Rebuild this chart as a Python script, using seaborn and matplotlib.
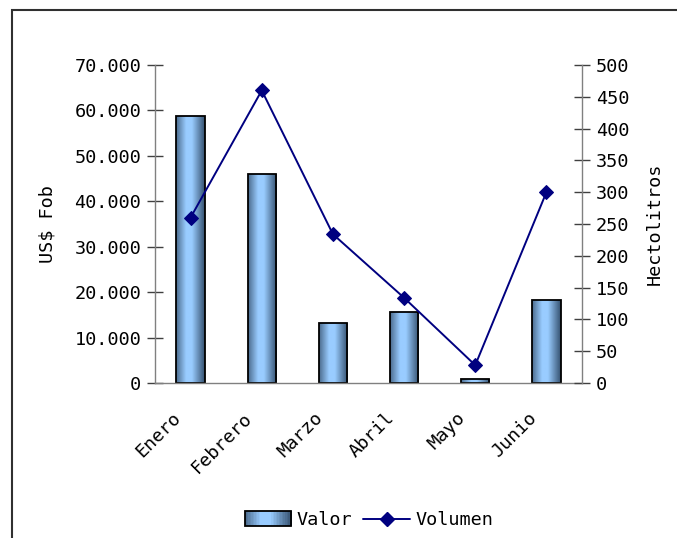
import numpy as np
import pandas as pd
import matplotlib
matplotlib.use("Agg")
import matplotlib.pyplot as plt
import matplotlib.transforms as mtransforms
import seaborn as sns
from matplotlib.colors import LinearSegmentedColormap
from matplotlib.patches import Rectangle
from matplotlib.legend_handler import HandlerBase
from matplotlib.lines import Line2D
from matplotlib.ticker import FuncFormatter, MultipleLocator

meses = ["Enero", "Febrero", "Marzo", "Abril", "Mayo", "Junio"]
valor = [58700, 46000, 13200, 15600, 900, 18300]
volumen = [260, 460, 234, 134, 28, 300]

sns.set_style("white")
plt.rcParams["font.family"] = ["DejaVu Sans Mono"]
plt.rcParams["font.size"] = 13.3
for k in ["text.color", "axes.labelcolor", "xtick.labelcolor", "ytick.labelcolor"]:
    plt.rcParams[k] = "black"

fig = plt.figure(figsize=(6.77, 5.38), dpi=100)
ax = fig.add_axes([155/677, 1-383/538, (582-155)/677, (383-65)/538])

df = pd.DataFrame({"Mes": meses, "Valor": valor, "Volumen": volumen})

cmap = LinearSegmentedColormap.from_list(
    "bar", [(0.0, "#4a6a8c"), (0.35, "#99ccff"), (0.55, "#99ccff"), (1.0, "#34506e")])
grad = np.linspace(0, 1, 256).reshape(1, -1)

sns.barplot(data=df, x="Mes", y="Valor", ax=ax, width=0.4, color="#99ccff",
            edgecolor="black", linewidth=1.3, saturation=1, zorder=2)
for p in list(ax.patches):
    x0, y0 = p.get_x(), p.get_y()
    w, h = p.get_width(), p.get_height()
    im = ax.imshow(grad, cmap=cmap, aspect="auto", extent=[x0, x0 + w, y0, y0 + h],
                   zorder=1.5, interpolation="bilinear")
    im.set_clip_path(p)
    p.set_facecolor("none")

ax.set_xlim(-0.5, 5.5)
ax.set_ylim(0, 70000)
ax.yaxis.set_major_locator(MultipleLocator(10000))
ax.yaxis.set_major_formatter(FuncFormatter(lambda v, _: f"{int(v):,}".replace(",", ".")))
ax.set_xlabel("")
ax.set_ylabel("US$ Fob", labelpad=13)

ax.set_xticks(np.arange(6))
ax.set_xticklabels(meses, rotation=45, ha="right", rotation_mode="anchor")
ax.tick_params(axis="x", length=0, pad=10)
offset = mtransforms.ScaledTranslation(-0.19, -0.12, fig.dpi_scale_trans)
for lab in ax.get_xticklabels():
    lab.set_transform(lab.get_transform() + offset)
ax.set_xticks(np.arange(-0.5, 6, 1), minor=True)
ax.tick_params(axis="x", which="minor", length=7, direction="out", color="#404040", width=1)
ax.tick_params(axis="y", length=12, direction="inout", color="#404040", width=1, pad=4)

for s in ["top", "right"]:
    ax.spines[s].set_visible(False)
for s in ["left", "bottom"]:
    ax.spines[s].set_color("#808080")
    ax.spines[s].set_linewidth(1)

ax2 = ax.twinx()
sns.lineplot(data=df, x="Mes", y="Volumen", ax=ax2, color="#000080", linewidth=1.4,
             marker="D", markersize=7, markeredgecolor="#000080", sort=False)
ax2.set_ylim(0, 500)
ax2.set_xlim(-0.5, 5.5)
ax2.yaxis.set_major_locator(MultipleLocator(50))
ax2.set_ylabel("Hectolitros", labelpad=12)
ax2.set_xlabel("")
ax2.tick_params(axis="y", length=12, direction="inout", color="#404040", width=1, pad=4)
for s in ["top", "left", "bottom"]:
    ax2.spines[s].set_visible(False)
ax2.spines["right"].set_color("#808080")
ax2.spines["right"].set_linewidth(1)


class GradHandler(HandlerBase):
    def create_artists(self, legend, orig_handle, xdescent, ydescent, width, height, fontsize, trans):
        arts = []
        n = 30
        for i in range(n):
            r = Rectangle((-xdescent + width * i / n, -ydescent - 1), width / n + 0.3, height + 2,
                          facecolor=cmap((i + 0.5) / n), edgecolor="none", transform=trans)
            arts.append(r)
        arts.append(Rectangle((-xdescent, -ydescent - 1), width, height + 2, facecolor="none",
                              edgecolor="black", linewidth=1.3, transform=trans))
        return arts


h_bar = Rectangle((0, 0), 1, 1)
h_line = Line2D([], [], color="#000080", linewidth=1.4, marker="D", markersize=7)
fig.legend([h_bar, h_line], ["Valor", "Volumen"], handler_map={Rectangle: GradHandler()},
           loc="center", bbox_to_anchor=(369/677, 1-520/538), ncol=2, frameon=False,
           handlelength=2.5, handletextpad=0.3, columnspacing=0.6)

fig.patches.append(Rectangle((12/677, -0.1), 1.2, 1 - 10/538 + 0.1, transform=fig.transFigure,
                             facecolor="none", edgecolor="#303030", linewidth=1.5))

fig.savefig("out.png", dpi=100)
